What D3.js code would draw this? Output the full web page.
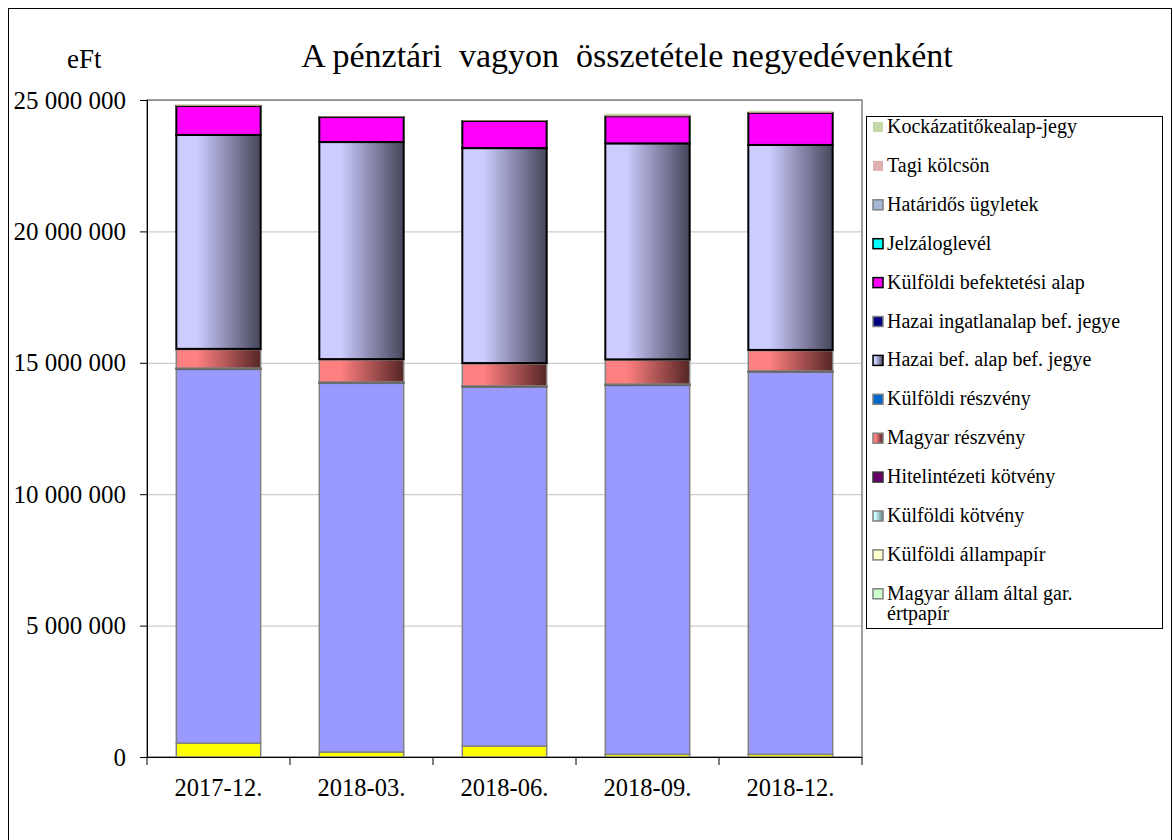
<!DOCTYPE html>
<meta charset="utf-8">
<style>
body { margin: 0; background: #fff; }
svg { font-family: "Liberation Serif", "Times New Roman", serif; }
.grid line { stroke: #c0c0c0; }
.grid path { display: none; }
.axis path, .axis line { stroke: #000; }
.axis text { fill: #000; font-family: "Liberation Serif", serif; }
.yaxis text { font-size: 25px; }
.xaxis text { font-size: 24.5px; }
.legend text { font-size: 20px; fill: #000; font-family: "Liberation Serif", serif; }
</style>
<svg width="1173" height="840"></svg>
<script src="https://d3js.org/d3.v7.min.js"></script>
<script>
// negyedévek
var categories = ["2017-12.", "2018-03.", "2018-06.", "2018-09.", "2018-12."];

// sorozatok alulról felfelé (eFt)
var folyoszamla      = [530000, 190000, 420000, 100000, 100000];
var allampapir       = [14220000, 14030000, 13650000, 14040000, 14540000];
var magyarGar        = [10000, 10000, 10000, 10000, 10000];
var kulfAllampapir   = [10000, 10000, 10000, 10000, 10000];
var kulfKotveny      = [10000, 10000, 10000, 10000, 10000];
var hitelKotveny     = [20000, 20000, 20000, 20000, 20000];
var magyarReszveny   = [710000, 850000, 850000, 920000, 780000];
var kulfReszveny     = [20000, 20000, 20000, 20000, 20000];
var hazaiBef         = [8140000, 8260000, 8180000, 8220000, 7800000];
var hazaiIngatlan    = [0, 0, 0, 0, 0];
var kulfBefAlap      = [1100000, 950000, 1030000, 1030000, 1220000];
var jelzalog         = [0, 0, 0, 0, 0];
var hataridos        = [0, 0, 0, 0, 0];
var tagiKolcson      = [30000, 20000, 20000, 40000, 30000];
var kockazati        = [40000, 10000, 10000, 60000, 50000];

var yTicks = [0, 5000000, 10000000, 15000000, 20000000, 25000000];

var series = [
  {key: "Folyószámla", values: folyoszamla, fill: "#ffff00", stroke: "#808080", legend: false},
  {key: "Állampapír", values: allampapir, fill: "#9999ff", stroke: "#808080", legend: false},
  {key: "Magyar állam által gar. értpapír", values: magyarGar, fill: "#ccffcc", stroke: "#808080", legend: true},
  {key: "Külföldi állampapír", values: kulfAllampapir, fill: "#ffffcc", stroke: "#808080", legend: true},
  {key: "Külföldi kötvény", values: kulfKotveny, fill: "url(#gKotveny)", stroke: "#808080", legend: true},
  {key: "Hitelintézeti kötvény", values: hitelKotveny, fill: "#660066", stroke: "#333", legend: true},
  {key: "Magyar részvény", values: magyarReszveny, fill: "url(#gReszveny)", stroke: "#808080", legend: true},
  {key: "Külföldi részvény", values: kulfReszveny, fill: "#0066cc", stroke: "#808080", legend: true},
  {key: "Hazai bef. alap bef. jegye", values: hazaiBef, fill: "url(#gHazai)", stroke: "#000", legend: true},
  {key: "Hazai ingatlanalap bef. jegye", values: hazaiIngatlan, fill: "#000080", stroke: "#808080", legend: true},
  {key: "Külföldi befektetési alap", values: kulfBefAlap, fill: "#ff00ff", stroke: "#000", legend: true},
  {key: "Jelzáloglevél", values: jelzalog, fill: "#00ffff", stroke: "#000", legend: true},
  {key: "Határidős ügyletek", values: hataridos, fill: "#a6b8d8", stroke: "#808080", legend: true},
  {key: "Tagi kölcsön", values: tagiKolcson, fill: "#e0b0b0", stroke: "none", legend: true},
  {key: "Kockázatitőkealap-jegy", values: kockazati, fill: "#c4d8a8", stroke: "none", legend: true}
];

var table = categories.map(function(c, i) {
  var row = {cat: c};
  series.forEach(function(s) { row[s.key] = s.values[i]; });
  return row;
});

var svg = d3.select("svg");

// gradiensek
var defs = svg.append("defs");
function grad(id, from, to) {
  var g = defs.append("linearGradient").attr("id", id)
      .attr("x1", "0%").attr("x2", "100%").attr("y1", "0%").attr("y2", "0%");
  g.append("stop").attr("offset", "0%").attr("stop-color", from);
  g.append("stop").attr("offset", "25%").attr("stop-color", from);
  g.append("stop").attr("offset", "100%").attr("stop-color", to);
}
grad("gHazai", "#ccccff", "#45455a");
grad("gReszveny", "#ff8080", "#552525");
grad("gKotveny", "#ccffff", "#608080");

// külső keret
svg.append("rect")
    .attr("x", 8.5).attr("y", 8.5).attr("width", 1163).attr("height", 840)
    .attr("fill", "none").attr("stroke", "#000");

var margin = {left: 147, top: 100, right: 862, bottom: 757};
var width = margin.right - margin.left,
    height = margin.bottom - margin.top;

var g = svg.append("g").attr("transform", "translate(" + margin.left + "," + margin.top + ")");

var x = d3.scaleBand().domain(categories).range([0, width]).paddingInner(0.41).paddingOuter(0.205);
var y = d3.scaleLinear().domain([0, 25000000]).range([height, 0]);

var fmt = d3.formatLocale({decimal: ",", thousands: " ", grouping: [3], currency: ["", ""]}).format(",d");

// rácsvonalak
g.append("g").attr("class", "grid")
    .call(d3.axisLeft(y).tickValues(yTicks).tickSize(-width).tickFormat(""));

// rajzterület kerete
g.append("rect").attr("width", width).attr("height", height)
    .attr("fill", "none").attr("stroke", "#808080").attr("stroke-width", 1.5);

var stack = d3.stack().keys(series.map(function(s) { return s.key; }));
var layers = stack(table);

g.selectAll("g.layer")
  .data(layers)
  .enter().append("g")
    .attr("class", "layer")
    .attr("fill", function(d, i) { return series[i].fill; })
    .attr("stroke", function(d, i) { return series[i].stroke; })
    .attr("stroke-width", function(d, i) { return series[i].stroke === "#000" ? 2 : 1.5; })
  .selectAll("rect")
  .data(function(d) { return d.filter(function(p) { return p[1] - p[0] > 0; }); })
  .enter().append("rect")
    .attr("x", function(d) { return x(d.data.cat); })
    .attr("width", x.bandwidth())
    .attr("y", function(d) { return y(d[1]); })
    .attr("height", function(d) { return y(d[0]) - y(d[1]); });

// tengelyek
var yAxis = g.append("g").attr("class", "axis yaxis")
    .call(d3.axisLeft(y).tickValues(yTicks).tickSize(7).tickPadding(14).tickFormat(fmt));
yAxis.select(".domain").attr("d", "M0.5," + height + "V0");

var xAxis = g.append("g").attr("class", "axis xaxis")
    .attr("transform", "translate(0," + height + ")")
    .call(d3.axisBottom(x).tickSize(0).tickPadding(22));
xAxis.select(".domain").attr("d", "M-7," + 0.5 + "H" + width);
xAxis.selectAll(".sep")
  .data(d3.range(categories.length + 1))
  .enter().append("line")
    .attr("x1", function(i) { return i * width / categories.length; })
    .attr("x2", function(i) { return i * width / categories.length; })
    .attr("y1", 0).attr("y2", 8).attr("stroke", "#000");

// cím
svg.append("text").attr("x", 627).attr("y", 67).attr("text-anchor", "middle")
    .style("font-size", "34px").style("white-space", "pre")
    .text("A pénztári  vagyon  összetétele negyedévenként");
svg.append("text").attr("x", 67).attr("y", 68)
    .style("font-size", "27px").text("eFt");

// jelmagyarázat
var legendItems = series.filter(function(s) { return s.legend; }).reverse();
var lg = svg.append("g").attr("class", "legend");
lg.append("rect").attr("x", 866.5).attr("y", 116.5).attr("width", 296).attr("height", 512)
    .attr("fill", "#fff").attr("stroke", "#000");
var item = lg.selectAll("g.item").data(legendItems).enter().append("g")
    .attr("class", "item")
    .attr("transform", function(d, i) { return "translate(873," + (127 + i * 38.9) + ")"; });
item.append("rect").attr("x", 0).attr("y", -5).attr("width", 10).attr("height", 10)
    .attr("fill", function(d) { return d.fill; })
    .attr("stroke", function(d) { return d.stroke === "none" ? "none" : d.stroke; })
    .attr("stroke-width", 1.5);
item.append("text").attr("x", 14).attr("y", 6)
    .each(function(d) {
      var t = d3.select(this);
      if (d.key === "Magyar állam által gar. értpapír") {
        t.append("tspan").attr("x", 14).text("Magyar állam által gar.");
        t.append("tspan").attr("x", 14).attr("dy", 20).text("értpapír");
      } else {
        t.text(d.key);
      }
    });
</script>
